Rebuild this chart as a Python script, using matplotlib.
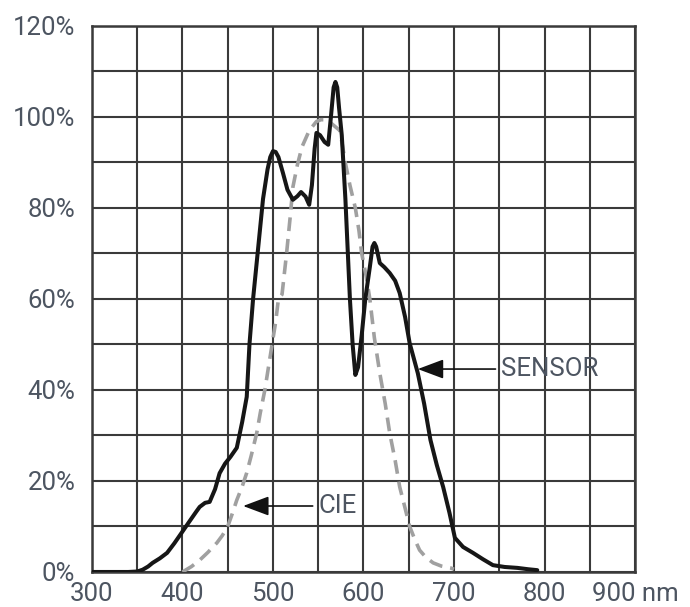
import matplotlib
matplotlib.use("Agg")
import matplotlib.pyplot as plt
from matplotlib.patches import ArrowStyle

plt.rcParams['font.family'] = ['Roboto', 'DejaVu Sans']

# wavelength (nm) / relative response (%)
sensor_nm = [300, 340, 350, 356, 362, 367, 375, 383, 391, 399, 408, 415, 419, 425, 430, 436, 441, 447, 453, 460,
             466, 471, 474, 478, 484, 489, 494, 497, 500, 503, 506, 511, 516, 522, 527, 531, 536, 540,
             543, 546, 548, 552, 557, 561, 564, 567, 569, 571, 573, 576, 580, 585, 588, 591, 594, 598, 602, 607,
             610, 612, 614, 618, 623, 629, 635, 640, 646, 651, 660, 667, 674, 681, 688, 695, 701,
             710, 721, 732, 743, 756, 770, 782, 792]
sensor_pct = [0, 0, 0.1, 0.5, 1.2, 2.0, 3.0, 4.2, 6.3, 8.6, 11.2, 13.2, 14.3, 15.2, 15.4, 18.2, 21.7, 23.8, 25.3, 27.3,
              33.0, 38.5, 50.0, 60.0, 72.0, 82.0, 88.5, 91.2, 92.5, 92.3, 91.2, 87.7, 84.0, 81.8, 82.6, 83.5, 82.5, 80.7,
              85.0, 93.0, 96.5, 96.0, 94.5, 93.9, 100.0, 106.5, 107.7, 106.5, 102.0, 96.0, 82.0, 60.0, 50.0, 43.3, 45.0, 52.0, 60.0, 67.0,
              71.5, 72.3, 71.5, 67.9, 67.0, 65.7, 64.0, 61.3, 56.0, 50.3, 43.7, 37.0, 29.0, 23.5, 18.7, 13.0, 7.5,
              5.5, 4.2, 2.8, 1.5, 1.1, 0.9, 0.6, 0.4]

cie_nm = [400, 410, 419, 428, 438, 444, 450, 455, 460, 466, 471, 476, 482, 486, 491, 495, 499, 503, 506,
          510, 515, 519, 522, 527, 532, 540, 548, 553, 557, 562, 568, 574, 580, 585, 591, 595, 598, 603,
          607, 612, 618, 624, 629, 635, 640, 646, 651, 657, 662, 669, 677, 686, 696, 700]
cie_pct = [0, 1.2, 2.6, 4.3, 6.4, 8.0, 10.0, 12.8, 15.8, 18.8, 21.8, 25.6, 30.5, 35.0, 40.0, 45.0, 50.0, 55.0, 60.0,
           61.0, 70.0, 78.0, 84.6, 89.5, 93.4, 97.0, 99.0, 99.4, 99.4, 99.0, 98.0, 97.0, 89.9, 85.0, 80.0, 75.0, 70.0, 65.0,
           60.0, 51.5, 43.7, 37.0, 30.5, 24.5, 18.7, 14.0, 10.0, 7.0, 4.8, 3.2, 2.0, 1.3, 0.9, 0.6]

x_ticks = [300, 400, 500, 600, 700, 800, 900]
x_labels = ['300', '400', '500', '600', '700', '800', '900 nm']
y_ticks = [0, 20, 40, 60, 80, 100, 120]
y_labels = ['0%', '20%', '40%', '60%', '80%', '100%', '120%']

text_color = '#4d5561'
grid_color = '#3a3a3a'

fig = plt.figure(figsize=(6.9, 6.07), dpi=100)
ax = fig.add_axes([0.1333, 0.0577, 0.787, 0.8995])

ax.plot(cie_nm, cie_pct, color='#a0a0a0', lw=2.6, ls=(0, (3.8, 2.2)), zorder=3)
ax.plot(sensor_nm, sensor_pct, color='#161616', lw=2.9, zorder=4,
        solid_joinstyle='round', solid_capstyle='round')

ax.set_xlim(300, 900)
ax.set_ylim(0, 120)
ax.set_xticks(x_ticks)
ax.set_xticklabels(x_labels)
ax.set_xticks(range(350, 900, 100), minor=True)
ax.set_yticks(y_ticks)
ax.set_yticklabels(y_labels)
ax.set_yticks(range(10, 120, 20), minor=True)
ax.grid(True, which='both', color=grid_color, lw=1.5)
ax.set_axisbelow(True)
ax.tick_params(which='both', length=0, labelsize=18.5, labelcolor=text_color)
ax.tick_params(axis='x', pad=7)
ax.tick_params(axis='y', pad=12)
for lbl in ax.get_xticklabels():
    if lbl.get_text().endswith('nm'):
        lbl.set_x(910)

for s in ax.spines.values():
    s.set_color(grid_color)
    s.set_linewidth(1.8)

head = ArrowStyle('-|>', head_length=0.8, head_width=0.3)
ax.annotate('SENSOR', xy=(660, 44.6), xytext=(752, 44.6), fontsize=18.5, color=text_color,
            va='center', ha='left',
            arrowprops=dict(arrowstyle=head, color='#111111', lw=1.2, mutation_scale=20,
                            shrinkA=2, shrinkB=0))
ax.annotate('CIE', xy=(467, 14.5), xytext=(550, 14.5), fontsize=18.5, color=text_color,
            va='center', ha='left',
            arrowprops=dict(arrowstyle=head, color='#111111', lw=1.2, mutation_scale=20,
                            shrinkA=2, shrinkB=0))

fig.savefig('out.png', dpi=100)
